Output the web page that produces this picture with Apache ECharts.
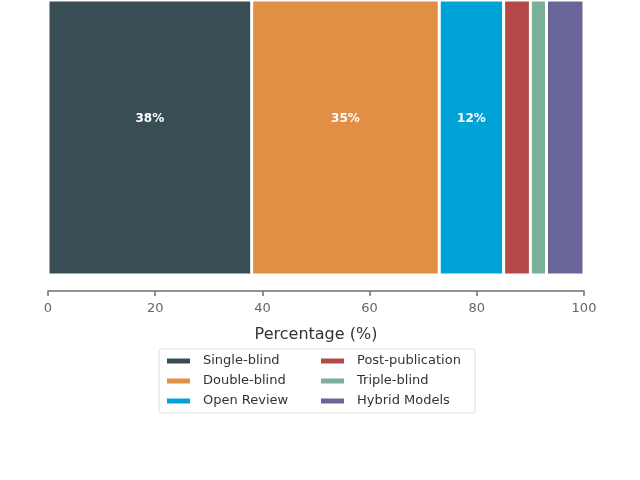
<!DOCTYPE html>
<html>
<head>
<meta charset="utf-8">
<script src="https://cdn.jsdelivr.net/npm/echarts@6/dist/echarts.min.js"></script>
<style>
  html, body { margin: 0; padding: 0; background: #fff; }
  #chart { width: 640px; height: 480px; }
</style>
</head>
<body>
<div id="chart"></div>
<script>
var categories = ['Review Models'];
var seriesNames = ['Single-blind', 'Double-blind', 'Open Review', 'Post-publication', 'Triple-blind', 'Hybrid Models'];
var seriesValues = [38, 35, 12, 5, 3, 7];
var seriesColors = ['#384d54', '#e08f45', '#00a3d6', '#b34a48', '#7aaf98', '#6a6599'];
var xTicks = [0, 20, 40, 60, 80, 100];

var fontName = 'DejaVu Sans';

var series = seriesNames.map(function (name, i) {
    return {
        name: name,
        type: 'bar',
        stack: 'total',
        barWidth: '100%',
        data: [seriesValues[i]],
        itemStyle: { color: seriesColors[i], borderColor: '#fff', borderWidth: 1.5 },
        label: {
            show: true,
            position: 'inside',
            offset: [0, -19],
            color: '#fff',
            fontFamily: fontName,
            fontWeight: 'bold',
            fontSize: 12,
            formatter: function (p) { return p.value >= 10 ? p.value + '%' : ''; }
        }
    };
});

document.addEventListener("DOMContentLoaded", () => {
    echarts.init(document.querySelector("#chart")).setOption({
        animation: false,
        grid: { left: 48, right: 56, top: 0, bottom: 205 },
        xAxis: {
            type: 'value',
            min: xTicks[0],
            max: xTicks[xTicks.length - 1],
            interval: 20,
            offset: 16,
            name: 'Percentage (%)',
            nameLocation: 'middle',
            nameGap: 36,
            nameTextStyle: { fontFamily: fontName, fontSize: 16, color: '#333' },
            axisLine: { show: true, lineStyle: { color: '#6b6f7e', width: 1.5 } },
            axisTick: { show: true, length: 5, lineStyle: { color: '#6b6f7e', width: 1.5 } },
            axisLabel: { fontFamily: fontName, fontSize: 13, color: '#666', margin: 11 },
            splitLine: { show: false }
        },
        yAxis: {
            type: 'category',
            data: categories,
            show: false
        },
        legend: {
            orient: 'vertical',
            left: 159,
            top: 349,
            height: 60,
            data: seriesNames,
            itemWidth: 25,
            itemHeight: 7,
            itemGap: 6,
            padding: [5, 8, 5, 6],
            borderColor: '#ddd',
            borderWidth: 1,
            borderRadius: 2,
            icon: 'rect',
            textStyle: {
                fontFamily: fontName, fontSize: 13, color: '#333',
                width: 110, lineHeight: 14, overflow: 'none', padding: [0, 0, 0, 7]
            }
        },
        series: series
    });
});
</script>
</body>
</html>
